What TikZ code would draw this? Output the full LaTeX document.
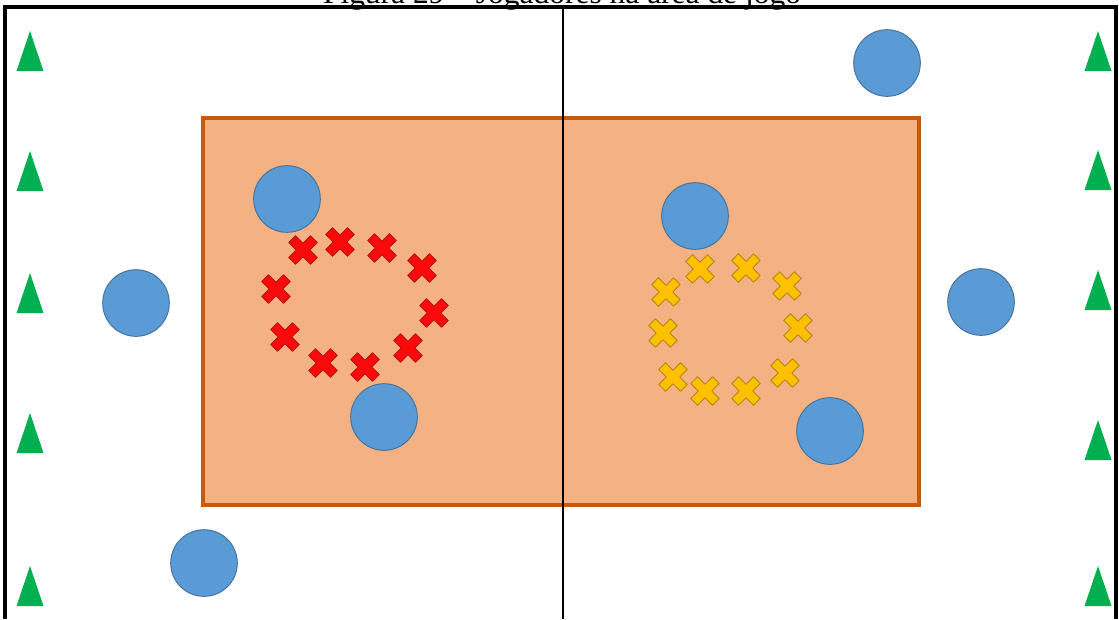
\documentclass[tikz,border=0pt]{standalone}
\usepackage{fontspec}
\setmainfont{Liberation Serif}
\usepackage{tikz}
\usetikzlibrary{positioning}

\definecolor{courtfill}{RGB}{244, 177, 131}
\definecolor{courtedge}{RGB}{197, 90, 17}
\definecolor{playerblue}{RGB}{91, 155, 213}
\definecolor{playeredge}{RGB}{65, 113, 156}
\definecolor{conegreen}{RGB}{0, 176, 80}
\definecolor{redfill}{RGB}{250, 10, 10}
\definecolor{rededge}{RGB}{190, 20, 20}
\definecolor{goldfill}{RGB}{255, 192, 0}
\definecolor{goldedge}{RGB}{180, 135, 20}

\tikzset{
  cone/.pic={
    \fill[pic actions] (0,-20) -- (13.5,20) -- (-13.5,20) -- cycle;
  },
  cross/.pic={
    \filldraw[pic actions, rotate=45, line join=round]
      (4.8,4.8) -- (15.4,4.8) -- (15.4,-4.8) -- (4.8,-4.8) -- (4.8,-15.4)
      -- (-4.8,-15.4) -- (-4.8,-4.8) -- (-15.4,-4.8) -- (-15.4,4.8)
      -- (-4.8,4.8) -- (-4.8,15.4) -- (4.8,15.4) -- cycle;
  }
}

\begin{document}
\begin{tikzpicture}[
    x=0.75pt, y=-0.75pt,
    court/.style={fill=courtfill, draw=courtedge, line width=3pt},
    frame/.style={draw=black, line width=2.8pt},
    halfway/.style={draw=black, line width=2pt},
    player/.style={circle, fill=playerblue, draw=playeredge, line width=0.7pt,
                   minimum size=50pt, inner sep=0pt},
    redx/.style={fill=redfill, draw=rededge, line width=0.6pt},
    goldx/.style={fill=goldfill, draw=goldedge, line width=0.6pt}
  ]
  \useasboundingbox (0,0) rectangle (1119,619);

  % title (cut at the top)
  \node[anchor=base, inner sep=0pt, font=\fontsize{23.6}{28}\selectfont] (title)
    at (562,3) {Figura 29 – Jogadores na área de jogo};

  % field
  \coordinate (tl) at (5,7);
  \coordinate (tr) at (1116,7);
  \coordinate (bl) at (5,619);
  \coordinate (br) at (1116,619);
  \draw[frame] (bl) -- (tl) -- (tr) -- (br);
  \draw[court] (203,118) rectangle (919,504.5);
  \coordinate (midtop) at (563,7);
  \coordinate (midbot) at (563,619);
  \draw[halfway] (midtop) -- (midbot);

  % cones
  \foreach \y in {51,171,293,433,586}
    \pic[fill=conegreen] at (30,\y) {cone};
  \foreach \y in {51,170,290,440,586}
    \pic[fill=conegreen] at (1098,\y) {cone};

  % red group
  \foreach \x/\y in {303/250, 340/242, 382/248, 422/268, 434/313,
                     408/348, 365/367, 323/363, 285/337, 276/289}
    \pic[redx] at (\x,\y) {cross};

  % yellow group
  \foreach \x/\y in {700/269, 746/268, 787/286, 798/328, 785/373,
                     746/391, 705/391, 673/377, 663/333, 666/292}
    \pic[goldx] at (\x,\y) {cross};

  % players
  \node[player] (p1) at (887,63) {};
  \node[player] (p2) at (287,199) {};
  \node[player] (p3) at (695,216) {};
  \node[player] (p4) at (136,303) {};
  \node[player] (p5) at (981,302) {};
  \node[player] (p6) at (384,417) {};
  \node[player] (p7) at (830,431) {};
  \node[player] (p8) at (204,563) {};
\end{tikzpicture}
\end{document}
